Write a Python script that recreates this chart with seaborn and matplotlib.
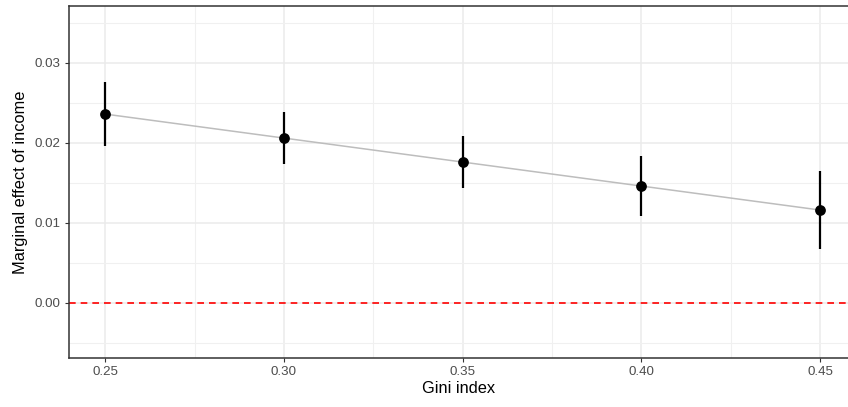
import numpy as np
import pandas as pd
import matplotlib
matplotlib.use("Agg")
import matplotlib.pyplot as plt
import seaborn as sns
from matplotlib.ticker import MultipleLocator

# Données
gini = [0.25, 0.30, 0.35, 0.40, 0.45]
effect = [0.0236, 0.0206, 0.0176, 0.0146, 0.0116]
ci_low = [0.0196, 0.0174, 0.0144, 0.0109, 0.0067]
ci_high = [0.0276, 0.0239, 0.0209, 0.0184, 0.0165]
x_ticks = [0.25, 0.30, 0.35, 0.40, 0.45]
x_labels = ["0.25", "0.30", "0.35", "0.40", "0.45"]
y_ticks = [0.00, 0.01, 0.02, 0.03]
y_labels = ["0.00", "0.01", "0.02", "0.03"]

df = pd.DataFrame({"gini": gini, "effect": effect, "low": ci_low, "high": ci_high})

sns.set_style("white")
plt.rcParams["font.family"] = ["Liberation Sans", "DejaVu Sans"]

fig = plt.figure(figsize=(8.48, 4.07), dpi=100)
ax = fig.add_axes([0.0814, 0.1204, 0.9186, 0.8646])

# grille façon theme_bw
ax.xaxis.set_minor_locator(MultipleLocator(0.025))
ax.yaxis.set_minor_locator(MultipleLocator(0.005))
ax.grid(which="major", color="#EBEBEB", linewidth=1.1, zorder=0)
ax.grid(which="minor", color="#F0F0F0", linewidth=0.8, zorder=0)
ax.set_axisbelow(True)

ax.axhline(0, color="#FF0000", linestyle=(0, (4, 3)), linewidth=1.2, zorder=2)

sns.lineplot(data=df, x="gini", y="effect", color="#BDBDBD", linewidth=1.1, ax=ax, zorder=3)
ax.vlines(df["gini"], df["low"], df["high"], color="black", linewidth=1.6, zorder=4)
sns.scatterplot(data=df, x="gini", y="effect", color="black", s=60, edgecolor="black",
                linewidth=0, ax=ax, zorder=5)

ax.set_xlim(0.2399, 0.4578)
ax.set_ylim(-0.0069, 0.0371)
ax.set_xticks(x_ticks)
ax.set_xticklabels(x_labels)
ax.set_yticks(y_ticks)
ax.set_yticklabels(y_labels)
ax.tick_params(which="major", length=3, width=0.8, color="#333333", labelsize=9.6,
               labelcolor="#4D4D4D", pad=3, bottom=True, left=True)
ax.tick_params(which="minor", length=0)

ax.set_xlabel("Gini index", fontsize=11.8, color="black", labelpad=2)
ax.set_ylabel("Marginal effect of income", fontsize=11.8, color="black", labelpad=5)

for side in ["left", "bottom", "top"]:
    ax.spines[side].set_visible(True)
    ax.spines[side].set_color("#333333")
    ax.spines[side].set_linewidth(1.1)
ax.spines["right"].set_visible(False)

fig.savefig("out.png", dpi=100)
